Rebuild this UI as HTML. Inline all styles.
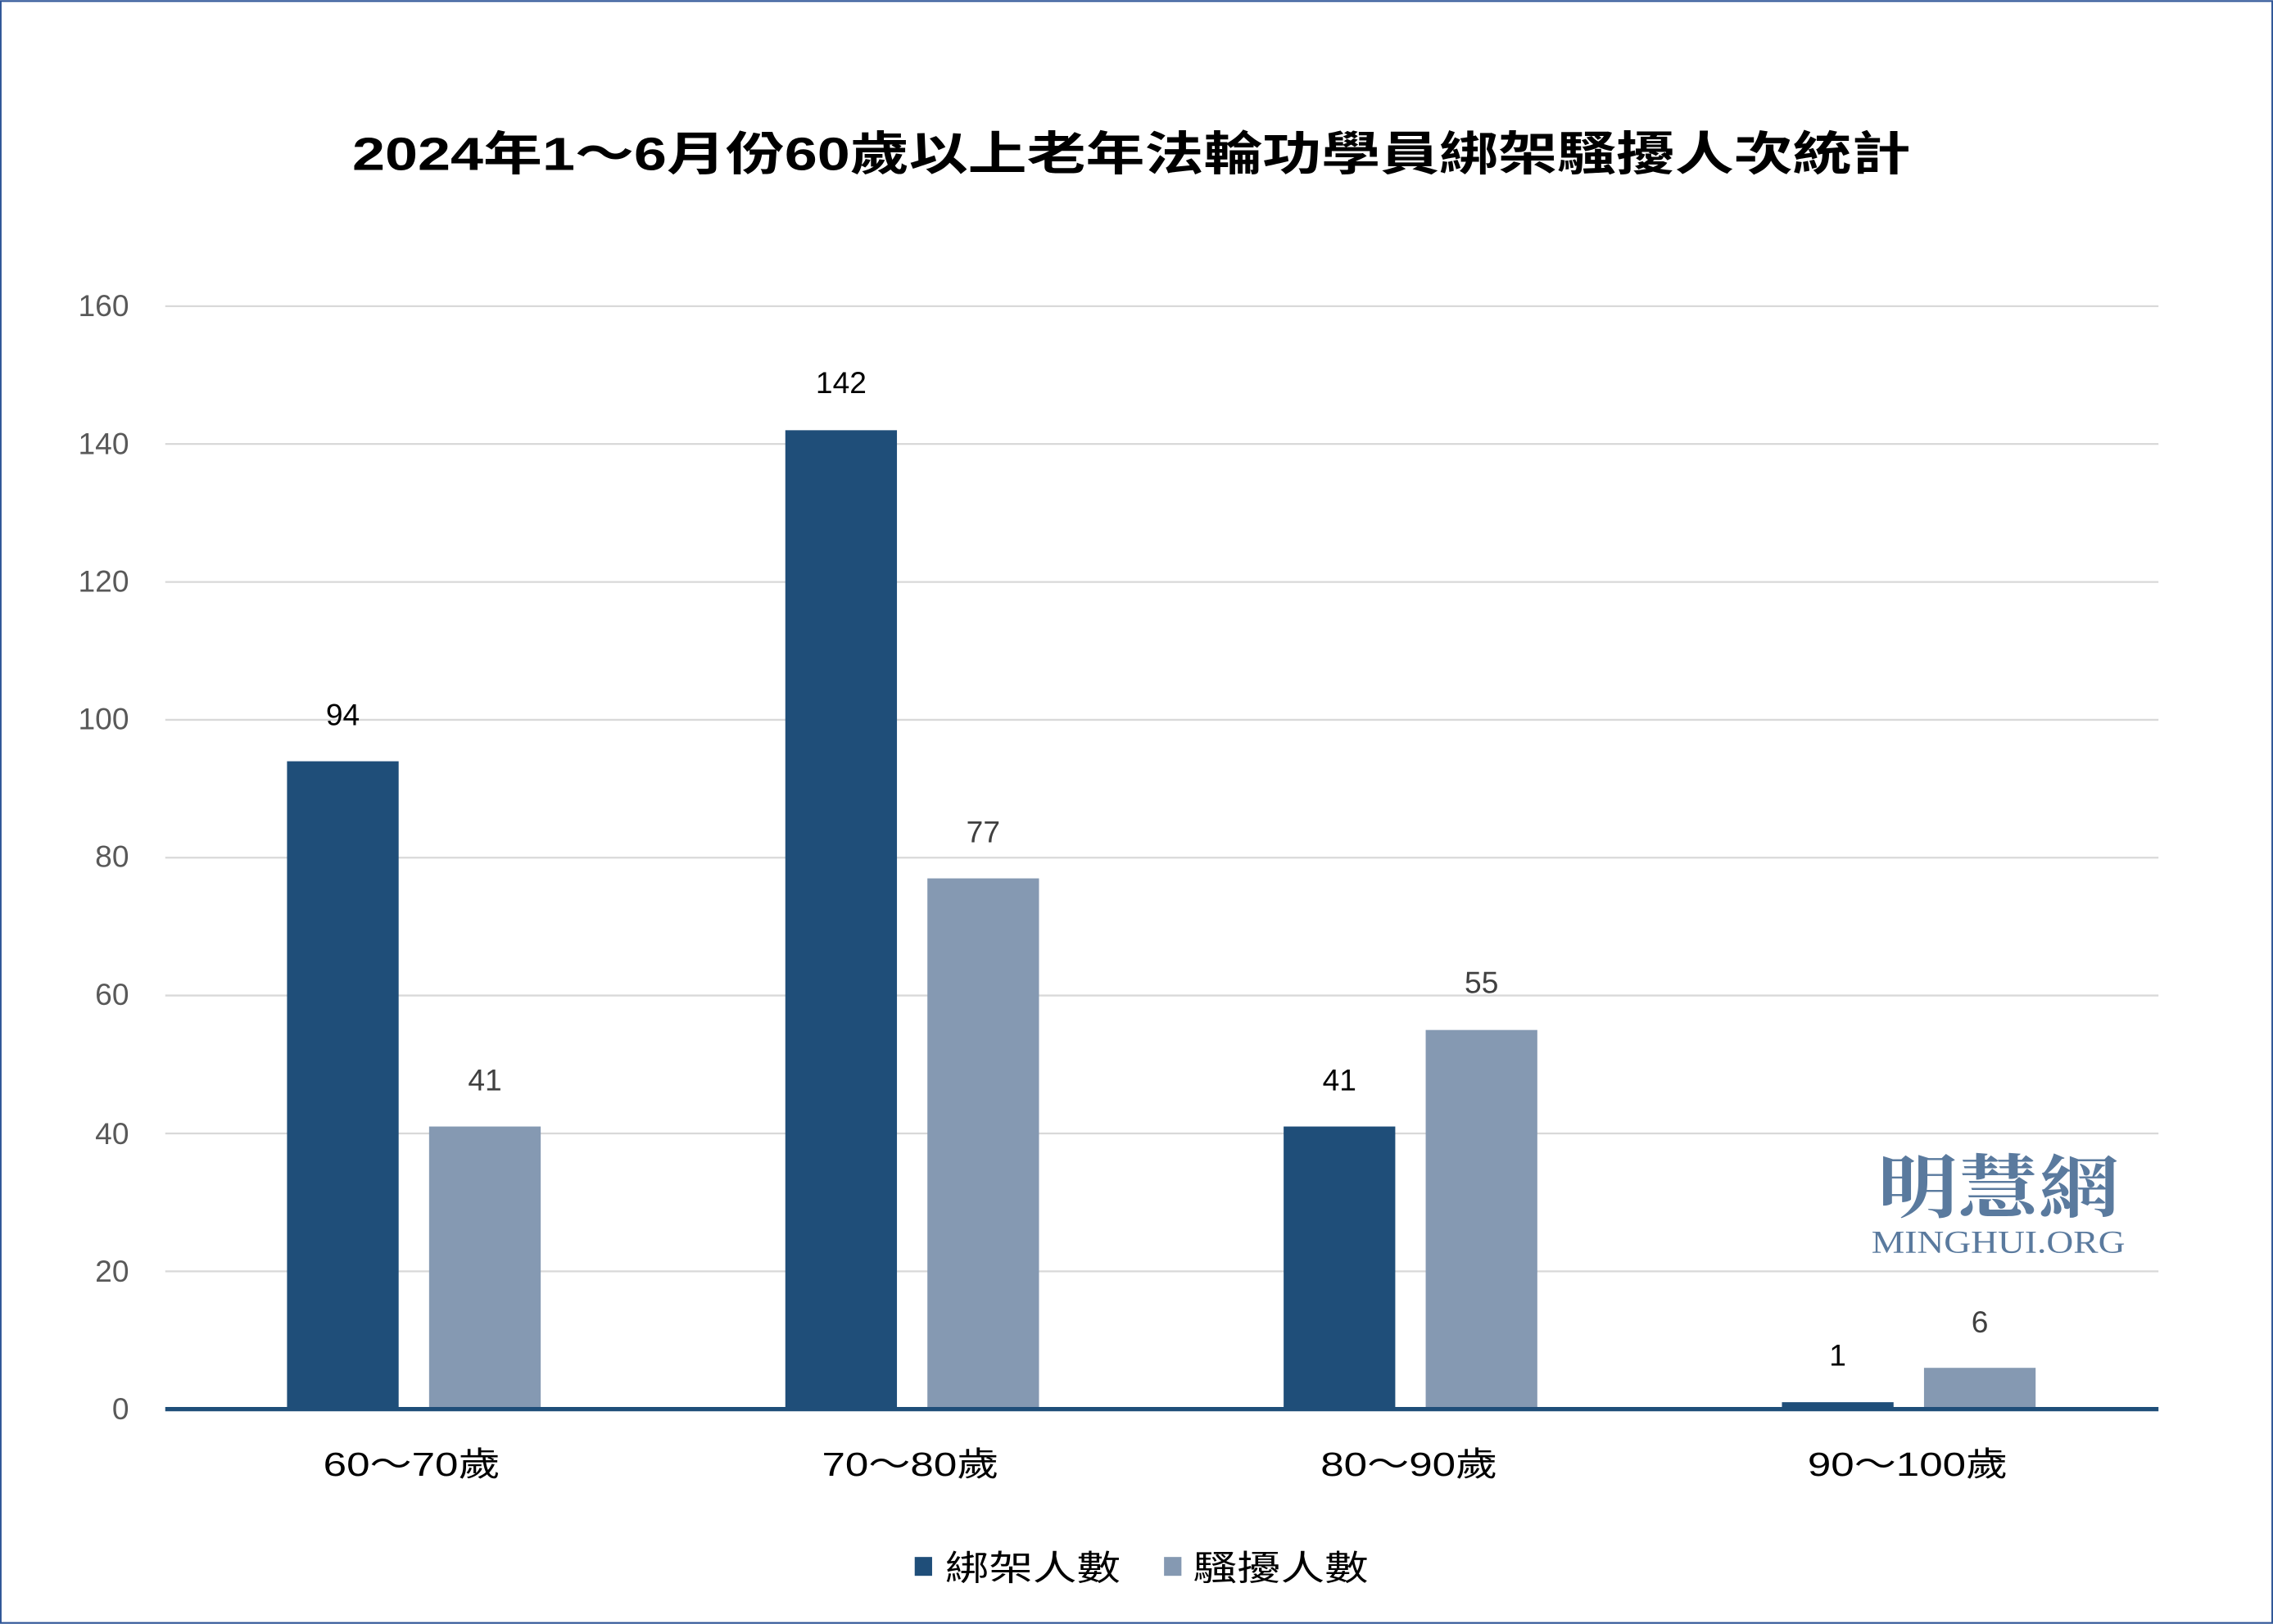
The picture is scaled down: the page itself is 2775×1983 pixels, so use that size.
<!DOCTYPE html>
<html><head><meta charset="utf-8"><style>
html,body{margin:0;padding:0;background:#fff;}
svg{display:block;}
text{font-family:"Liberation Sans","Noto Sans CJK TC",sans-serif;}
</style></head><body>
<svg width="2775" height="1983" viewBox="0 0 1568 1120" xmlns="http://www.w3.org/2000/svg">
<rect x="0.5" y="0.5" width="1567" height="1119" fill="#fff" stroke="#2F5597" stroke-width="1.2"/>
<text x="243" y="117" font-size="32" font-weight="bold" fill="#000" textLength="1075" lengthAdjust="spacingAndGlyphs">2024年1～6月份60歲以上老年法輪功學員綁架騷擾人次統計</text>
<g stroke="#D9D9D9" stroke-width="1.3">
<line x1="114" x2="1489" y1="211" y2="211"/>
<line x1="114" x2="1489" y1="306.1" y2="306.1"/>
<line x1="114" x2="1489" y1="401.3" y2="401.3"/>
<line x1="114" x2="1489" y1="496.4" y2="496.4"/>
<line x1="114" x2="1489" y1="591.5" y2="591.5"/>
<line x1="114" x2="1489" y1="686.6" y2="686.6"/>
<line x1="114" x2="1489" y1="781.8" y2="781.8"/>
<line x1="114" x2="1489" y1="876.9" y2="876.9"/>
</g>
<g font-size="21" fill="#595959" text-anchor="end">
<text x="89" y="218">160</text><text x="89" y="313">140</text><text x="89" y="408">120</text>
<text x="89" y="503">100</text><text x="89" y="598">80</text><text x="89" y="693">60</text>
<text x="89" y="789">40</text><text x="89" y="884">20</text><text x="89" y="979">0</text>
</g>
<g fill="#1F4E79">
<rect x="198" y="525" width="77" height="447"/>
<rect x="541.75" y="296.6" width="77" height="675.4"/>
<rect x="885.5" y="777" width="77" height="195"/>
<rect x="1229.25" y="967.2" width="77" height="4.8"/>
</g>
<g fill="#8599B2">
<rect x="296" y="777" width="77" height="195"/>
<rect x="639.75" y="605.8" width="77" height="366.2"/>
<rect x="983.5" y="710.4" width="77" height="261.6"/>
<rect x="1327.25" y="943.5" width="77" height="28.5"/>
</g>
<line x1="114" x2="1489" y1="972" y2="972" stroke="#1F4E79" stroke-width="3"/>
<g font-size="21" text-anchor="middle">
<text x="236.5" y="500" fill="#000">94</text>
<text x="334.5" y="752" fill="#404040">41</text>
<text x="580.25" y="271" fill="#000">142</text>
<text x="678.25" y="581" fill="#404040">77</text>
<text x="924" y="752" fill="#000">41</text>
<text x="1022" y="685" fill="#404040">55</text>
<text x="1267.75" y="942" fill="#000">1</text>
<text x="1365.75" y="919" fill="#404040">6</text>
</g>
<g font-size="23" fill="#000" lengthAdjust="spacingAndGlyphs">
<text x="223" y="1018" textLength="122" lengthAdjust="spacingAndGlyphs">60～70歲</text>
<text x="567" y="1018" textLength="122" lengthAdjust="spacingAndGlyphs">70～80歲</text>
<text x="911" y="1018" textLength="122" lengthAdjust="spacingAndGlyphs">80～90歲</text>
<text x="1247" y="1018" textLength="138" lengthAdjust="spacingAndGlyphs">90～100歲</text>
</g>
<rect x="631" y="1074" width="12" height="13" fill="#1F4E79"/>
<text x="652" y="1090" font-size="24" fill="#000" textLength="121" lengthAdjust="spacingAndGlyphs">綁架人數</text>
<rect x="803" y="1074" width="12" height="13" fill="#8599B2"/>
<text x="823" y="1090" font-size="24" fill="#000" textLength="121" lengthAdjust="spacingAndGlyphs">騷擾人數</text>
<text x="1295" y="836" font-size="48" font-weight="bold" fill="#5A7A9E" textLength="167" lengthAdjust="spacingAndGlyphs" style="font-family:'Noto Serif CJK SC','Noto Sans CJK TC',serif">明慧網</text>
<text x="1291" y="864" font-size="22" fill="#5A7A9E" style="font-family:'Liberation Serif',serif" textLength="175" lengthAdjust="spacingAndGlyphs">MINGHUI.ORG</text>
</svg>
</body></html>
